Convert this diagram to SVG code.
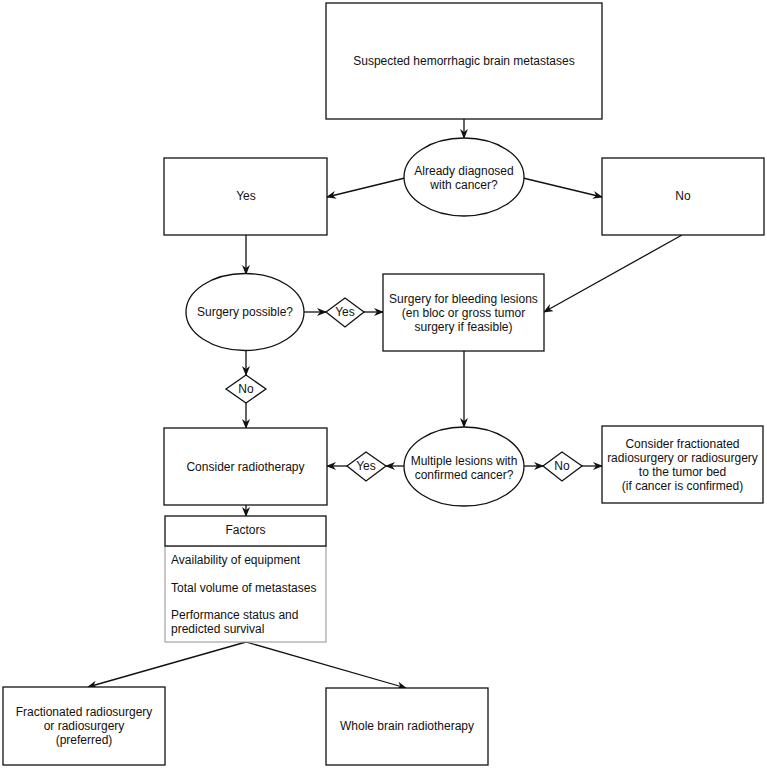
<svg xmlns="http://www.w3.org/2000/svg" width="767" height="769" viewBox="0 0 767 769">
<style>
.n{fill:#fff;stroke:#111;stroke-width:1.3}
.g{fill:#fff;stroke:#999;stroke-width:1.1}
.t{font-family:"Liberation Sans",Arial,sans-serif;font-size:12px;fill:#111;text-anchor:middle;dominant-baseline:central}
.l{text-anchor:start}
.c{fill:none;stroke:#111;stroke-width:1.3}
</style>
<defs>
<marker id="a" viewBox="0 0 10 8" refX="9" refY="4" markerWidth="10" markerHeight="8" markerUnits="userSpaceOnUse" orient="auto">
<path d="M0,0 L10,4 L0,8 L3,4 z" fill="#111"/>
</marker>
</defs>
<rect width="767" height="769" fill="#fff"/>
<g id="connectors">
<line class="c" x1="464" y1="119" x2="464" y2="138" marker-end="url(#a)"/>
<line class="c" x1="405" y1="178" x2="327" y2="197" marker-end="url(#a)"/>
<line class="c" x1="523" y1="178" x2="602" y2="197" marker-end="url(#a)"/>
<line class="c" x1="246" y1="235" x2="246" y2="274" marker-end="url(#a)"/>
<line class="c" x1="304" y1="312" x2="326" y2="312" marker-end="url(#a)"/>
<line class="c" x1="364" y1="312" x2="383" y2="312" marker-end="url(#a)"/>
<line class="c" x1="682" y1="235" x2="544" y2="312" marker-end="url(#a)"/>
<line class="c" x1="246" y1="351" x2="246" y2="375" marker-end="url(#a)"/>
<line class="c" x1="246" y1="403" x2="246" y2="428" marker-end="url(#a)"/>
<line class="c" x1="464" y1="351" x2="464" y2="427" marker-end="url(#a)"/>
<line class="c" x1="404" y1="466" x2="386" y2="466" marker-end="url(#a)"/>
<line class="c" x1="347" y1="466" x2="327" y2="466" marker-end="url(#a)"/>
<line class="c" x1="524" y1="466" x2="543" y2="466" marker-end="url(#a)"/>
<line class="c" x1="582" y1="466" x2="602" y2="466" marker-end="url(#a)"/>
<line class="c" x1="246" y1="505" x2="246" y2="516" marker-end="url(#a)"/>
<line class="c" x1="246" y1="642" x2="88" y2="687" marker-end="url(#a)"/>
<line class="c" x1="246" y1="642" x2="406" y2="688" marker-end="url(#a)"/>
</g>
<g id="start">
<rect class="n" x="326" y="3" width="276" height="116"/>
<text class="t" x="464" y="61">Suspected hemorrhagic brain metastases</text>
</g>
<g id="diagnosed">
<ellipse class="n" cx="464" cy="177" rx="60" ry="39"/>
<text class="t" x="464" y="171">Already diagnosed</text>
<text class="t" x="464" y="185">with cancer?</text>
</g>
<g id="yes-box">
<rect class="n" x="164" y="158" width="163" height="77"/>
<text class="t" x="246" y="196">Yes</text>
</g>
<g id="no-box">
<rect class="n" x="602" y="158" width="162" height="77"/>
<text class="t" x="683" y="196">No</text>
</g>
<g id="surgery-possible">
<ellipse class="n" cx="245" cy="312" rx="59" ry="38.5"/>
<text class="t" x="245" y="312">Surgery possible?</text>
</g>
<g id="yes-diamond-1">
<polygon class="n" points="326,312 345,298 364,312 345,327"/>
<text class="t" x="345" y="312">Yes</text>
</g>
<g id="surgery">
<rect class="n" x="383" y="274" width="161" height="77"/>
<text class="t" x="463.5" y="299">Surgery for bleeding lesions</text>
<text class="t" x="463.5" y="313">(en bloc or gross tumor</text>
<text class="t" x="463.5" y="327">surgery if feasible)</text>
</g>
<g id="no-diamond-1">
<polygon class="n" points="226,389 246,375 266,389 246,403"/>
<text class="t" x="246" y="389">No</text>
</g>
<g id="radiotherapy">
<rect class="n" x="164" y="428" width="163" height="77"/>
<text class="t" x="245.5" y="467">Consider radiotherapy</text>
</g>
<g id="yes-diamond-2">
<polygon class="n" points="347,466 366,452 386,466 366,481"/>
<text class="t" x="366" y="466">Yes</text>
</g>
<g id="multiple">
<ellipse class="n" cx="464" cy="466.5" rx="60" ry="39.5"/>
<text class="t" x="464" y="461">Multiple lesions with</text>
<text class="t" x="464" y="475">confirmed cancer?</text>
</g>
<g id="no-diamond-2">
<polygon class="n" points="543,466 562,452 582,466 562,481"/>
<text class="t" x="562" y="466">No</text>
</g>
<g id="tumor-bed">
<rect class="n" x="602" y="426" width="161" height="77"/>
<text class="t" x="682.5" y="444">Consider fractionated</text>
<text class="t" x="682.5" y="458">radiosurgery or radiosurgery</text>
<text class="t" x="682.5" y="472">to the tumor bed</text>
<text class="t" x="682.5" y="486">(if cancer is confirmed)</text>
</g>
<g id="factors">
<rect class="g" x="165" y="546" width="161" height="96"/>
<rect class="n" x="165" y="516" width="161" height="30"/>
<text class="t" x="245.5" y="530">Factors</text>
<text class="t l" x="171" y="560">Availability of equipment</text>
<text class="t l" x="171" y="588">Total volume of metastases</text>
<text class="t l" x="171" y="615">Performance status and</text>
<text class="t l" x="171" y="629">predicted survival</text>
</g>
<g id="fractionated">
<rect class="n" x="3" y="687" width="162" height="78"/>
<text class="t" x="84" y="712">Fractionated radiosurgery</text>
<text class="t" x="84" y="726">or radiosurgery</text>
<text class="t" x="84" y="740">(preferred)</text>
</g>
<g id="whole-brain">
<rect class="n" x="326" y="688" width="162" height="77"/>
<text class="t" x="407" y="726">Whole brain radiotherapy</text>
</g>
</svg>
